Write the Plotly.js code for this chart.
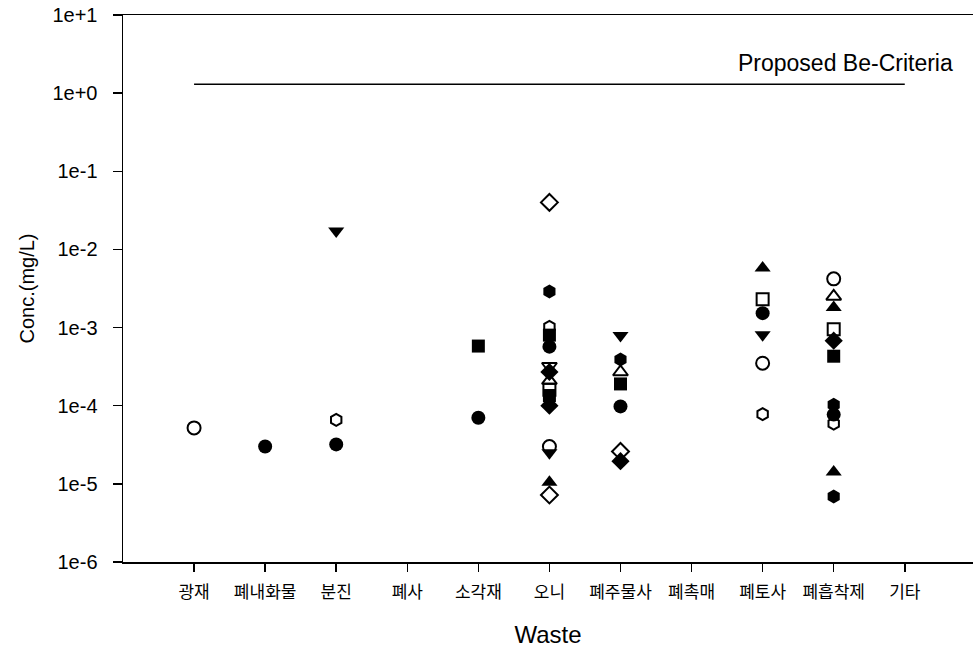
<!DOCTYPE html>
<html>
<head>
<meta charset="utf-8">
<script src="https://cdn.plot.ly/plotly-3.0.1.min.js"></script>
<style>html,body{margin:0;padding:0;background:#fff;}#chart{width:973px;height:648px;}</style>
</head>
<body>
<div id="chart"></div>
<script>
const categories = ["광재","폐내화물","분진","폐사","소각재","오니","폐주물사","폐촉매","폐토사","폐흡착제","기타"];

const tickValues = [1e-6,1e-5,1e-4,1e-3,1e-2,1e-1,1e0,1e1];
const tickLabels = ["1e-6","1e-5","1e-4","1e-3","1e-2","1e-1","1e+0","1e+1"];

const criterionX = ["광재","기타"];
const criterionY = [1.3, 1.3];
const criterionLabel = "Proposed Be-Criteria";

const filledCircleX = ["폐내화물","분진","소각재","오니","폐주물사","폐토사","폐흡착제"];
const filledCircleY = [3.0e-5, 3.2e-5, 7.0e-5, 5.7e-4, 9.8e-5, 1.53e-3, 7.7e-5];

const openCircleX = ["광재","오니","폐토사","폐흡착제"];
const openCircleY = [5.2e-5, 3.0e-5, 3.5e-4, 4.2e-3];

const filledHexX = ["오니","폐주물사","폐흡착제","폐흡착제"];
const filledHexY = [2.9e-3, 3.9e-4, 1.03e-4, 6.9e-6];

const openHexX = ["분진","오니","폐토사","폐흡착제"];
const openHexY = [6.6e-5, 1.02e-3, 7.8e-5, 5.9e-5];

const filledDownX = ["분진","오니","폐주물사","폐토사"];
const filledDownY = [0.0172, 2.5e-5, 7.9e-4, 8.1e-4];

const openDownX = ["오니"];
const openDownY = [3.2e-4];

const filledUpX = ["오니","폐토사","폐흡착제","폐흡착제"];
const filledUpY = [1.05e-5, 5.8e-3, 1.8e-3, 1.42e-5];

const openUpX = ["오니","폐주물사","폐흡착제"];
const openUpY = [2.1e-4, 2.7e-4, 2.5e-3];

const filledSquareX = ["소각재","오니","오니","폐주물사","폐흡착제"];
const filledSquareY = [5.8e-4, 8.0e-4, 1.35e-4, 1.9e-4, 4.3e-4];

const openSquareX = ["오니","폐토사","폐흡착제"];
const openSquareY = [1.6e-4, 2.3e-3, 9.5e-4];

const filledDiamondX = ["오니","오니","폐주물사","폐흡착제"];
const filledDiamondY = [2.7e-4, 1.0e-4, 1.95e-5, 6.8e-4];

const openDiamondX = ["오니","오니","폐주물사"];
const openDiamondY = [0.04, 7.2e-6, 2.6e-5];

function pts(x, y, symbol, size) {
  const open = symbol.indexOf("open") >= 0;
  return {
    type: "scatter", mode: "markers", x: x, y: y, showlegend: false,
    hoverinfo: "x+y",
    marker: {symbol: symbol, size: size || 13, color: "#000",
             line: {color: "#000", width: open ? 2 : 0}}
  };
}

const data = [
  {type:"scatter", mode:"lines", x: criterionX, y: criterionY, showlegend:false,
   line:{color:"#000", width:1.5}, hoverinfo:"skip"},
  pts(openDiamondX, openDiamondY, "diamond-open", 13),
  pts(openSquareX, openSquareY, "square-open", 12),
  pts(openUpX, openUpY, "triangle-up-open", 13),
  pts(openDownX, openDownY, "triangle-down-open", 13),
  pts(openHexX, openHexY, "hexagon-open", 12),
  pts(openCircleX, openCircleY, "circle-open", 13),
  pts(filledCircleX, filledCircleY, "circle", 14),
  pts(filledHexX, filledHexY, "hexagon", 14),
  pts(filledDownX, filledDownY, "triangle-down", 14),
  pts(filledUpX, filledUpY, "triangle-up", 14),
  pts(filledSquareX, filledSquareY, "square", 13),
  pts(filledDiamondX, filledDiamondY, "diamond", 14)
];

const layout = {
  width: 973, height: 648,
  margin: {l:123, r:0, t:15, b:86},
  paper_bgcolor: "#fff", plot_bgcolor: "#fff",
  font: {family: "Liberation Sans, Arial, sans-serif", color: "#000"},
  xaxis: {
    type: "category", categoryorder: "array", categoryarray: categories,
    tickvals: categories, ticktext: categories,
    range: [-1, 10.96],
    showline: true, linecolor: "#000", linewidth: 1.5, mirror: true,
    showgrid: false, zeroline: false,
    ticks: "outside", ticklen: 8, tickwidth: 1.5, tickcolor: "#000",
    ticklabelstandoff: 6,
    tickfont: {family: "Noto Sans CJK KR, sans-serif", size: 17, color: "#000"},
    title: {text: "Waste", font: {family: "Liberation Sans, Arial, sans-serif", size: 24}, standoff: 24}
  },
  yaxis: {
    type: "log", range: [-6, 1],
    tickvals: tickValues, ticktext: tickLabels,
    showline: true, linecolor: "#000", linewidth: 1.5, mirror: false,
    showgrid: false, zeroline: false,
    ticks: "outside", ticklen: 9, tickwidth: 1.5, tickcolor: "#000",
    ticklabelstandoff: 11,
    tickfont: {family: "Liberation Sans, Arial, sans-serif", size: 20, color: "#000"},
    title: {text: "Conc.(mg/L)", font: {family: "Liberation Sans, Arial, sans-serif", size: 20}, standoff: 12}
  },
  annotations: [{
    text: criterionLabel, xref: "paper", yref: "paper", x: 0.721, y: 0.912,
    xanchor: "left", yanchor: "middle", showarrow: false,
    font: {family: "Liberation Sans, Arial, sans-serif", size: 23, color: "#000"}
  }]
};

Plotly.newPlot("chart", data, layout, {displayModeBar: false, staticPlot: true});
</script>
</body>
</html>
